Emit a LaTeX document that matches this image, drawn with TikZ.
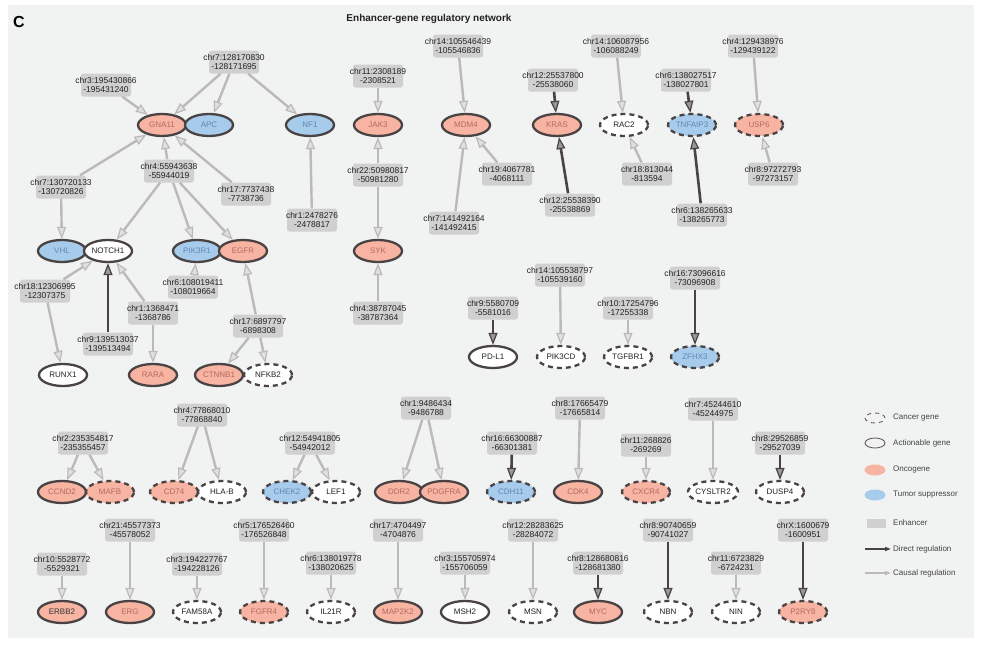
\documentclass[tikz,border=0pt]{standalone}
\usepackage{fontspec}
\setmainfont{Liberation Sans}
\usetikzlibrary{arrows.meta,shapes.geometric}
\definecolor{panel}{HTML}{F1F2F2}
\definecolor{onco}{HTML}{F7B4A3}
\definecolor{oncotxt}{HTML}{B8695C}
\definecolor{tsup}{HTML}{A6CBEB}
\definecolor{tstxt}{HTML}{5F87B3}
\definecolor{bord}{HTML}{4A4343}
\definecolor{enhfill}{HTML}{D0D0D0}
\definecolor{causal}{HTML}{BCB9B9}
\definecolor{direct}{HTML}{4A4343}
\definecolor{txt}{HTML}{222222}
\newcommand\enh[4]{\node[enhbox,label={[enhtxt]center:{#3\\#4}}] (#1) at #2 {};}
\begin{document}
\begin{tikzpicture}[x=1pt,y=-1pt,
 gene/.style={ellipse, minimum width=48pt, minimum height=22pt, inner sep=0pt, line width=2.3pt, draw=bord, font=\fontsize{8}{9}\selectfont},
 canc/.style={gene, dash pattern=on 5pt off 4pt},
 onc/.style={fill=onco, text=oncotxt},
 tsg/.style={fill=tsup, text=tstxt},
 wht/.style={fill=white, text=txt},
 enhbox/.style={rectangle, rounded corners=2.5pt, fill=enhfill, minimum width=50pt, minimum height=23pt, inner sep=0pt},
 enhtxt/.style={align=center, font=\fontsize{8.5}{9.8}\selectfont, text=txt, inner sep=0pt},
 cau/.style={draw=causal, line width=2.4pt, -{Triangle[length=12pt,width=9pt,line width=1.2pt,fill=causal!45!white]}},
 dir/.style={draw=direct, line width=2.6pt, -{Triangle[length=12pt,width=9pt,line width=1.2pt,fill=direct!55!white]}},
 lgtxt/.style={anchor=west, font=\fontsize{8}{9}\selectfont, text=txt!85, inner sep=0pt},
]
\useasboundingbox (0,0) rectangle (981,648);
\fill[white] (0,0) rectangle (981,648);
\fill[panel] (8,5) rectangle (974,638);
\node[font=\fontsize{16}{18}\selectfont\bfseries, text=black] (lblC) at (19,22) {C};
\node[font=\fontsize{10}{12}\selectfont\bfseries, text=txt] (title) at (429,19) {Enhancer-gene regulatory network};

% ---------- genes ----------
\node[gene,onc] (gna11) at (162,125) {GNA11};
\node[gene,tsg] (apc) at (209,125) {APC};
\node[gene,tsg] (nf1) at (310,125) {NF1};
\node[gene,onc] (jak3) at (378,125) {JAK3};
\node[gene,onc] (mdm4) at (466,125) {MDM4};
\node[gene,onc] (kras) at (557,125) {KRAS};
\node[canc,wht] (rac2) at (624,125) {RAC2};
\node[canc,tsg] (tnfaip3) at (692,125) {TNFAIP3};
\node[canc,onc] (usp6) at (759,125) {USP6};

\node[gene,tsg] (vhl) at (62,251) {VHL};
\node[gene,wht] (notch1) at (108,251) {NOTCH1};
\node[gene,tsg] (pik3r1) at (197,251) {PIK3R1};
\node[gene,onc] (egfr) at (243,251) {EGFR};
\node[gene,onc] (syk) at (378,251) {SYK};

\node[gene,wht] (runx1) at (63,375) {RUNX1};
\node[gene,onc] (rara) at (153,375) {RARA};
\node[gene,onc] (ctnnb1) at (219,375) {CTNNB1};
\node[canc,wht] (nfkb2) at (268,375) {NFKB2};

\node[gene,wht] (pdl1) at (493,357) {PD-L1};
\node[canc,wht] (pik3cd) at (561,357) {PIK3CD};
\node[canc,wht] (tgfbr1) at (628,357) {TGFBR1};
\node[canc,tsg] (zfhx3) at (695,357) {ZFHX3};

\node[gene,onc] (ccnd2) at (62,492) {CCND2};
\node[canc,onc] (mafb) at (110,492) {MAFB};
\node[canc,onc] (cd74) at (174,492) {CD74};
\node[canc,wht] (hlab) at (222,492) {HLA-B};
\node[canc,tsg] (chek2) at (287,492) {CHEK2};
\node[canc,wht] (lef1) at (336,492) {LEF1};
\node[gene,onc] (ddr2) at (399,492) {DDR2};
\node[gene,onc] (pdgfra) at (444,492) {PDGFRA};
\node[canc,tsg] (cdh11) at (511,492) {CDH11};
\node[gene,onc] (cdk4) at (578,492) {CDK4};
\node[canc,onc] (cxcr4) at (646,492) {CXCR4};
\node[canc,wht] (cysltr2) at (713,492) {CYSLTR2};
\node[canc,wht] (dusp4) at (780,492) {DUSP4};

\node[gene,onc,text=black!80] (erbb2) at (62,612) {ERBB2};
\node[gene,onc] (erg) at (130,612) {ERG};
\node[canc,wht] (fam58a) at (197,612) {FAM58A};
\node[canc,onc] (fgfr4) at (264,612) {FGFR4};
\node[canc,wht] (il21r) at (331,612) {IL21R};
\node[gene,onc] (map2k2) at (398,612) {MAP2K2};
\node[gene,wht] (msh2) at (465,612) {MSH2};
\node[canc,wht] (msn) at (533,612) {MSN};
\node[gene,onc] (myc) at (598,612) {MYC};
\node[canc,wht] (nbn) at (668,612) {NBN};
\node[canc,wht] (nin) at (736,612) {NIN};
\node[canc,onc] (p2ry8) at (803,612) {P2RY8};

% ---------- enhancers ----------
\enh{e1}{(106,85)}{chr3:195430866}{-195431240}
\enh{e2}{(234,62)}{chr7:128170830}{-128171695}
\enh{e3}{(61,187)}{chr7:130720133}{-130720826}
\enh{e4}{(169,171)}{chr4:55943638}{-55944019}
\enh{e5}{(246,194)}{chr17:7737438}{-7738736}
\enh{e6}{(312,220)}{chr1:2478276}{-2478817}
\enh{e7}{(193,287)}{chr6:108019411}{-108019664}
\enh{e8}{(45,291)}{chr18:12306995}{-12307375}
\enh{e9}{(153,313)}{chr1:1368471}{-1368786}
\enh{e10}{(108,344)}{chr9:139513037}{-139513494}
\enh{e11}{(258,326)}{chr17:6897797}{-6898308}
\enh{e12}{(378,76)}{chr11:2308189}{-2308521}
\enh{e13}{(378,175)}{chr22:50980817}{-50981280}
\enh{e14}{(378,313)}{chr4:38787045}{-38787364}
\enh{e15}{(458,46)}{chr14:105546439}{-105546836}
\enh{e16}{(507,174)}{chr19:4067781}{-4068111}
\enh{e17}{(454,223)}{chr7:141492164}{-141492415}
\enh{e18}{(553,80)}{chr12:25537800}{-25538060}
\enh{e19}{(570,205)}{chr12:25538390}{-25538869}
\enh{e20}{(616,46)}{chr14:106087956}{-106088249}
\enh{e21}{(647,174)}{chr18:813044}{-813594}
\enh{e22}{(686,80)}{chr6:138027517}{-138027801}
\enh{e23}{(702,215)}{chr6:138265633}{-138265773}
\enh{e24}{(753,46)}{chr4:129438976}{-129439122}
\enh{e25}{(773,174)}{chr8:97272793}{-97273157}
\enh{e26}{(493,308)}{chr9:5580709}{-5581016}
\enh{e27}{(560,275)}{chr14:105538797}{-105539160}
\enh{e28}{(628,308)}{chr10:17254796}{-17255338}
\enh{e29}{(695,278)}{chr16:73096616}{-73096908}
\enh{e30}{(83,443)}{chr2:235354817}{-235355457}
\enh{e31}{(202,415)}{chr4:77868010}{-77868840}
\enh{e32}{(310,443)}{chr12:54941805}{-54942012}
\enh{e33}{(426,408)}{chr1:9486434}{-9486788}
\enh{e34}{(512,443)}{chr16:66300887}{-66301381}
\enh{e35}{(580,408)}{chr8:17665479}{-17665814}
\enh{e36}{(646,445)}{chr11:268826}{-269269}
\enh{e37}{(713,409)}{chr7:45244610}{-45244975}
\enh{e38}{(780,443)}{chr8:29526859}{-29527039}
\enh{e39}{(130,530)}{chr21:45577373}{-45578052}
\enh{e40}{(62,564)}{chr10:5528772}{-5529321}
\enh{e41}{(197,564)}{chr3:194227767}{-194228126}
\enh{e42}{(264,530)}{chr5:176526460}{-176526848}
\enh{e43}{(331,563)}{chr6:138019778}{-138020625}
\enh{e44}{(398,530)}{chr17:4704497}{-4704876}
\enh{e45}{(465,563)}{chr3:155705974}{-155706059}
\enh{e46}{(533,530)}{chr12:28283625}{-28284072}
\enh{e47}{(598,563)}{chr8:128680816}{-128681380}
\enh{e48}{(668,530)}{chr8:90740659}{-90741027}
\enh{e49}{(736,563)}{chr11:6723829}{-6724231}
\enh{e50}{(803,530)}{chrX:1600679}{-1600951}

% ---------- edges ----------
\draw[cau] (e1) -- (gna11);
\draw[cau] (e2) -- (gna11);
\draw[cau] (e2) -- (apc);
\draw[cau] (e2) -- (nf1);
\draw[cau] (e3) -- (gna11);
\draw[cau] (e3) -- (vhl);
\draw[cau] (e4) -- (gna11);
\draw[cau] (e4) -- (notch1);
\draw[cau] (e4) -- (pik3r1);
\draw[cau] (e4) -- (egfr);
\draw[cau] (e5) -- (gna11);
\draw[cau] (e6) -- (nf1);
\draw[cau] (e7) -- (pik3r1);
\draw[cau] (e8) -- (notch1);
\draw[cau] (e8) -- (runx1);
\draw[cau] (e9) -- (notch1);
\draw[cau] (e9) -- (rara);
\draw[dir] (e10) -- (notch1);
\draw[cau] (e11) -- (egfr);
\draw[cau] (e11) -- (ctnnb1);
\draw[cau] (e11) -- (nfkb2);
\draw[cau] (e12) -- (jak3);
\draw[cau] (e13) -- (jak3);
\draw[cau] (e13) -- (syk);
\draw[cau] (e14) -- (syk);
\draw[cau] (e15) -- (mdm4);
\draw[cau] (e16) -- (mdm4);
\draw[cau] (e17) -- (mdm4);
\draw[dir] (e18) -- (kras);
\draw[dir] (e19) -- (kras);
\draw[cau] (e20) -- (rac2);
\draw[cau] (e21) -- (rac2);
\draw[dir] (e22) -- (tnfaip3);
\draw[dir] (e23) -- (tnfaip3);
\draw[cau] (e24) -- (usp6);
\draw[cau] (e25) -- (usp6);
\draw[dir] (e26) -- (pdl1);
\draw[cau] (e27) -- (pik3cd);
\draw[cau] (e28) -- (tgfbr1);
\draw[dir] (e29) -- (zfhx3);
\draw[cau] (e30) -- (ccnd2);
\draw[cau] (e30) -- (mafb);
\draw[cau] (e31) -- (cd74);
\draw[cau] (e31) -- (hlab);
\draw[cau] (e32) -- (chek2);
\draw[cau] (e32) -- (lef1);
\draw[cau] (e33) -- (ddr2);
\draw[cau] (e33) -- (pdgfra);
\draw[dir] (e34) -- (cdh11);
\draw[cau] (e35) -- (cdk4);
\draw[cau] (e36) -- (cxcr4);
\draw[cau] (e37) -- (cysltr2);
\draw[dir] (e38) -- (dusp4);
\draw[cau] (e39) -- (erg);
\draw[cau] (e40) -- (erbb2);
\draw[cau] (e41) -- (fam58a);
\draw[cau] (e42) -- (fgfr4);
\draw[cau] (e43) -- (il21r);
\draw[cau] (e44) -- (map2k2);
\draw[cau] (e45) -- (msh2);
\draw[cau] (e46) -- (msn);
\draw[dir] (e47) -- (myc);
\draw[dir] (e48) -- (nbn);
\draw[cau] (e49) -- (nin);
\draw[dir] (e50) -- (p2ry8);

% ---------- legend ----------
\node[ellipse, draw=bord!85, line width=0.9pt, dash pattern=on 4pt off 4pt, minimum width=20pt, minimum height=10pt, inner sep=0pt] (lg1) at (875,418) {};
\node[lgtxt] (lt1) at (893,418) {Cancer gene};
\node[ellipse, draw=bord!85, line width=0.9pt, minimum width=20pt, minimum height=10pt, inner sep=0pt] (lg2) at (875,443) {};
\node[lgtxt] (lt2) at (893,443) {Actionable gene};
\node[ellipse, fill=onco, minimum width=21pt, minimum height=11pt, inner sep=0pt] (lg3) at (875,470) {};
\node[lgtxt] (lt3) at (893,470) {Oncogene};
\node[ellipse, fill=tsup, minimum width=21pt, minimum height=11pt, inner sep=0pt] (lg4) at (875,495) {};
\node[lgtxt] (lt4) at (893,495) {Tumor suppressor};
\node[rectangle, fill=enhfill, minimum width=19pt, minimum height=9pt, inner sep=0pt] (lg5) at (876,523) {};
\node[lgtxt] (lt5) at (893,523) {Enhancer};
\coordinate (d1) at (865,549);
\coordinate (d2) at (891,549);
\draw[draw=direct, line width=1.6pt, -{Triangle[length=6pt,width=4pt]}] (d1) -- (d2);
\node[lgtxt] (lt6) at (893,549) {Direct regulation};
\coordinate (c1) at (865,573);
\coordinate (c2) at (891,573);
\draw[draw=causal, line width=1.6pt, -{Triangle[length=6pt,width=4pt]}] (c1) -- (c2);
\node[lgtxt] (lt7) at (893,573) {Causal regulation};
\end{tikzpicture}
\end{document}
